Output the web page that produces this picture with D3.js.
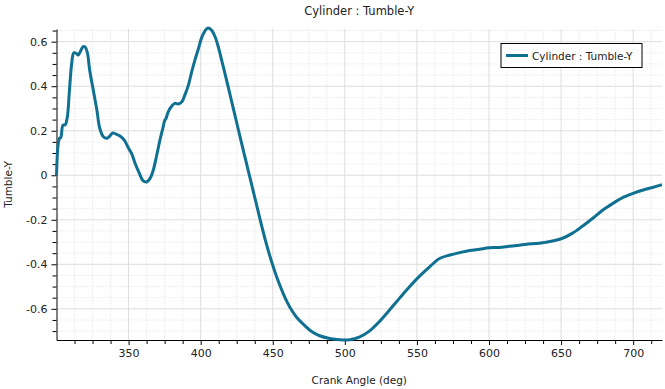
<!DOCTYPE html>
<html>
<head>
<meta charset="utf-8">
<script src="https://cdn.jsdelivr.net/npm/d3@7"></script>
<style>
  body { margin: 0; background: #fff; }
  svg { display: block; font-family: "DejaVu Sans", sans-serif; }
</style>
</head>
<body>
<div id="chart"></div>
<script>
const chartTitle = "Cylinder : Tumble-Y";
const xLabel = "Crank Angle (deg)";
const yLabel = "Tumble-Y";
const xTicks = [350, 400, 450, 500, 550, 600, 650, 700];
const yTicks = [-0.6, -0.4, -0.2, 0, 0.2, 0.4, 0.6];

// crank angle (deg)
const angles = [300, 301, 302, 303, 304.5, 306, 307.5, 309, 310.5, 312, 314, 315, 317, 318.5, 320, 321.5, 323, 325.5, 328, 330,
  332.5, 335, 337, 339, 341, 344, 347, 350, 352, 354.5, 357.5, 360, 362.5, 365, 367, 369.5, 372, 374, 375, 376,
  377.5, 380, 382, 384.5, 387, 389, 391.5, 393.5, 396, 398.5, 400.5, 403, 405, 407.5, 410, 412.5, 415, 417.5, 420, 422.5,
  425, 427.5, 430, 432.5, 435, 437.5, 440, 442.5, 445, 447.5, 450, 452.5, 455, 457.5, 460, 462.5, 466.5, 471, 477, 482.5,
  489.5, 496.5, 503.5, 510, 517, 524, 531, 538, 545, 552, 559, 566, 573, 580, 586.5, 593.5, 600, 607, 614, 621,
  626, 635, 644, 651, 658, 665, 672, 679, 686, 693, 700, 707, 714, 720];
// tumble ratio Y
const tumbleY = [0.0, 0.13, 0.165, 0.17, 0.225, 0.226, 0.262, 0.383, 0.5, 0.55, 0.546, 0.54, 0.562, 0.578, 0.575, 0.548, 0.473, 0.383, 0.293, 0.211,
  0.173, 0.166, 0.176, 0.19, 0.186, 0.176, 0.158, 0.121, 0.099, 0.054, 0.008, -0.024, -0.03, -0.013, 0.02, 0.09, 0.165, 0.218, 0.245, 0.256,
  0.285, 0.311, 0.323, 0.32, 0.33, 0.36, 0.405, 0.458, 0.517, 0.57, 0.615, 0.649, 0.661, 0.652, 0.622, 0.57, 0.505, 0.44, 0.372, 0.304,
  0.236, 0.168, 0.101, 0.034, -0.032, -0.099, -0.166, -0.232, -0.295, -0.352, -0.404, -0.452, -0.495, -0.535, -0.57, -0.6, -0.638, -0.668, -0.702, -0.721,
  -0.733, -0.739, -0.739, -0.727, -0.7, -0.657, -0.605, -0.552, -0.5, -0.452, -0.41, -0.373, -0.358, -0.347, -0.338, -0.332, -0.326, -0.324, -0.319, -0.314,
  -0.31, -0.305, -0.295, -0.283, -0.26, -0.228, -0.193, -0.156, -0.126, -0.099, -0.081, -0.066, -0.054, -0.042];

const data = angles.map((a, i) => [a, tumbleY[i]]);

const W = 665, H = 389;
const margin = { top: 29, right: 3, bottom: 49, left: 56.5 };
const width = W - margin.left - margin.right;
const height = H - margin.top - margin.bottom;
const color = "#0f7091";

const x = d3.scaleLinear().domain([300, 720]).range([0, width]);
const y = d3.scaleLinear().domain([-0.74, 0.657]).range([height, 0]);

const svg = d3.select("#chart").append("svg").attr("width", W).attr("height", H);
const g = svg.append("g").attr("transform", `translate(${margin.left},${margin.top})`);

const xMinor = d3.range(300, 721, 12.5).filter(v => v % 50 !== 0);
const yMinor = d3.range(-0.7, 0.66, 0.05).map(v => +v.toFixed(2)).filter(v => Math.abs(Math.round(v * 10) - v * 10) > 0.01 || Math.round(v * 10) % 2 !== 0);

// grid
g.append("g").selectAll("line").data(xMinor).join("line")
  .attr("x1", d => x(d)).attr("x2", d => x(d)).attr("y1", 0).attr("y2", height)
  .attr("stroke", "#eeeeee").attr("stroke-dasharray", "2,1");
g.append("g").selectAll("line").data(yMinor).join("line")
  .attr("y1", d => y(d)).attr("y2", d => y(d)).attr("x1", 0).attr("x2", width)
  .attr("stroke", "#eeeeee").attr("stroke-dasharray", "2,1");
g.append("g").selectAll("line").data(xTicks).join("line")
  .attr("x1", d => x(d)).attr("x2", d => x(d)).attr("y1", 0).attr("y2", height)
  .attr("stroke", "#dddddd");
g.append("g").selectAll("line").data(yTicks).join("line")
  .attr("y1", d => y(d)).attr("y2", d => y(d)).attr("x1", 0).attr("x2", width)
  .attr("stroke", "#dddddd");

// axes
g.append("g").attr("transform", `translate(0,${height})`)
  .call(d3.axisBottom(x).tickValues(xTicks).tickSize(5).tickPadding(4).tickSizeOuter(0));
g.append("g").attr("transform", `translate(0,${height})`)
  .call(d3.axisBottom(x).tickValues(xMinor).tickSize(4).tickFormat("").tickSizeOuter(0))
  .select(".domain").remove();
g.append("g")
  .call(d3.axisLeft(y).tickValues(yTicks).tickSize(5).tickPadding(4).tickSizeOuter(0)
    .tickFormat(d => d === 0 ? "0" : d.toFixed(1)));
g.append("g")
  .call(d3.axisLeft(y).tickValues(yMinor).tickSize(4).tickFormat("").tickSizeOuter(0))
  .select(".domain").remove();

g.selectAll(".tick text").attr("font-size", 11).attr("fill", "#222").attr("font-family", "DejaVu Sans");
g.selectAll(".domain").attr("stroke", "#000");
g.selectAll(".tick line").attr("stroke", "#000");

// line
g.append("path").datum(data)
  .attr("fill", "none").attr("stroke", color).attr("stroke-width", 3)
  .attr("stroke-linejoin", "round")
  .attr("d", d3.line().x(d => x(d[0])).y(d => y(d[1])).curve(d3.curveCatmullRom));

// titles
svg.append("text").attr("x", margin.left + width / 2).attr("y", 15)
  .attr("text-anchor", "middle").attr("font-size", 11.5).attr("fill", "#222").text(chartTitle);
svg.append("text").attr("x", margin.left + width / 2).attr("y", 384)
  .attr("text-anchor", "middle").attr("font-size", 10.5).attr("fill", "#222").text(xLabel);
svg.append("text").attr("transform", `translate(12,${margin.top + height / 2}) rotate(-90)`)
  .attr("text-anchor", "middle").attr("font-size", 10.5).attr("fill", "#222").text(yLabel);

// legend
const lg = svg.append("g").attr("transform", "translate(501,43.5)");
lg.append("rect").attr("width", 141).attr("height", 24).attr("fill", "#fff").attr("stroke", "#000");
lg.append("line").attr("x1", 5).attr("x2", 27).attr("y1", 12).attr("y2", 12)
  .attr("stroke", color).attr("stroke-width", 3);
lg.append("text").attr("x", 31).attr("y", 16).attr("font-size", 10.5).attr("fill", "#222").text(chartTitle);
</script>
</body>
</html>
